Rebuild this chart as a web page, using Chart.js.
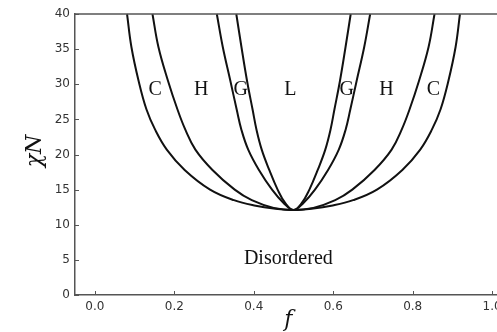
<!DOCTYPE html>
<html>
<head>
<meta charset="utf-8">
<script src="https://cdn.jsdelivr.net/npm/chart.js@4/dist/chart.umd.min.js"></script>
<style>
  html, body { margin: 0; padding: 0; background: #fff; overflow: hidden; }
  .wrap { width: 497px; height: 332px; overflow: hidden; }
  .box { width: 540px; height: 332px; }
</style>
</head>
<body>
<div class="wrap"><div class="box"><canvas id="phase"></canvas></div></div>
<script>
// phase boundaries (f, chiN)
const outerF   = [0.081, 0.092, 0.110, 0.130, 0.152, 0.181, 0.226, 0.290, 0.350, 0.405, 0.45, 0.5, 0.55, 0.595, 0.650, 0.710, 0.774, 0.819, 0.848, 0.870, 0.890, 0.908, 0.919];
const outerChi = [40, 35.3, 30.5, 26.4, 23.5, 20.7, 17.8, 15.0, 13.5, 12.7, 12.3, 12.1, 12.3, 12.7, 13.5, 15.0, 17.8, 20.7, 23.5, 26.4, 30.5, 35.3, 40];

const chF   = [0.145, 0.160, 0.184, 0.208, 0.228, 0.253, 0.296, 0.352, 0.395, 0.45, 0.5, 0.55, 0.605, 0.648, 0.704, 0.747, 0.772, 0.792, 0.816, 0.840, 0.855];
const chChi = [40, 35.3, 30.5, 26.4, 23.5, 20.7, 17.8, 15.0, 13.5, 12.4, 12.1, 12.4, 13.5, 15.0, 17.8, 20.7, 23.5, 26.4, 30.5, 35.3, 40];

const hgF   = [0.307, 0.322, 0.341, 0.357, 0.369, 0.386, 0.413, 0.446, 0.475, 0.5, 0.525, 0.554, 0.587, 0.614, 0.631, 0.643, 0.659, 0.678, 0.693];
const hgChi = [40, 35.3, 30.5, 26.4, 23.5, 20.7, 17.8, 15.0, 13.1, 12.1, 13.1, 15.0, 17.8, 20.7, 23.5, 26.4, 30.5, 35.3, 40];

const glF   = [0.356, 0.369, 0.383, 0.397, 0.407, 0.420, 0.439, 0.460, 0.479, 0.5, 0.521, 0.540, 0.561, 0.580, 0.593, 0.603, 0.617, 0.631, 0.644];
const glChi = [40, 35.3, 30.5, 26.4, 23.5, 20.7, 17.8, 15.0, 13.1, 12.1, 13.1, 15.0, 17.8, 20.7, 23.5, 26.4, 30.5, 35.3, 40];

// region names
const phaseNames = ['C', 'H', 'G', 'L', 'G', 'H', 'C', 'Disordered'];
const phaseF     = [0.152, 0.268, 0.367, 0.492, 0.634, 0.734, 0.852, 0.487];
const phaseChi   = [29.2, 29.2, 29.2, 29.2, 29.2, 29.2, 29.2, 5.2];

const xTicks = [0.0, 0.2, 0.4, 0.6, 0.8, 1.0];
const yTicks = [0, 5, 10, 15, 20, 25, 30, 35, 40];

const toPts = (fs, chis) => fs.map((f, i) => ({ x: f, y: chis[i] }));

function curve(fs, chis) {
  return {
    data: toPts(fs, chis),
    showLine: true,
    borderColor: '#111',
    borderWidth: 2,
    pointRadius: 0,
    tension: 0.4,
    clip: false,
  };
}

const axisColor = '#555';

const decor = {
  id: 'decor',
  afterDraw(chart) {
    const { ctx, chartArea: a, scales: { x, y } } = chart;
    ctx.save();
    ctx.strokeStyle = axisColor;
    ctx.lineWidth = 1.5;
    // top spine
    ctx.beginPath();
    ctx.moveTo(a.left, a.top);
    ctx.lineTo(a.right, a.top);
    ctx.stroke();
    // inward ticks
    ctx.lineWidth = 1;
    ctx.beginPath();
    xTicks.forEach(v => {
      const px = Math.round(x.getPixelForValue(v)) + 0.5;
      ctx.moveTo(px, a.bottom);
      ctx.lineTo(px, a.bottom - 4);
    });
    yTicks.forEach(v => {
      const py = Math.round(y.getPixelForValue(v)) + 0.5;
      ctx.moveTo(a.left, py);
      ctx.lineTo(a.left + 4, py);
    });
    ctx.stroke();

    // phase labels
    ctx.fillStyle = '#111';
    ctx.font = '20px "Liberation Serif", serif';
    ctx.textAlign = 'center';
    ctx.textBaseline = 'middle';
    phaseNames.forEach((t, i) => {
      ctx.fillText(t, x.getPixelForValue(phaseF[i]), y.getPixelForValue(phaseChi[i]));
    });

    // axis titles
    ctx.font = 'italic 22px "DejaVu Serif", serif';
    ctx.fillText('f', x.getPixelForValue(0.487), 320);
    ctx.save();
    ctx.translate(35, y.getPixelForValue(20.5));
    ctx.rotate(-Math.PI / 2);
    ctx.fillText('χN', 0, 0);
    ctx.restore();
    ctx.restore();
  }
};

new Chart(document.getElementById('phase'), {
  type: 'scatter',
  data: {
    datasets: [
      curve(outerF, outerChi),
      curve(chF, chChi),
      curve(hgF, hgChi),
      curve(glF, glChi),
    ]
  },
  options: {
    responsive: true,
    maintainAspectRatio: false,
    animation: false,
    layout: { padding: { left: 0, right: 28, top: 14, bottom: 0 } },
    plugins: { legend: { display: false }, tooltip: { enabled: false } },
    scales: {
      x: {
        type: 'linear',
        min: -0.05,
        max: 1.05,
        afterBuildTicks: s => { s.ticks = xTicks.map(v => ({ value: v })); },
        afterFit: s => { s.height = 37; },
        grid: { display: false, drawTicks: false },
        border: { display: true, color: axisColor, width: 1.5 },
        ticks: {
          padding: 5,
          color: '#333',
          font: { family: '"DejaVu Sans"', size: 12 },
          maxRotation: 0,
          callback: v => v.toFixed(1),
        },
      },
      y: {
        type: 'linear',
        min: 0,
        max: 40,
        afterBuildTicks: s => { s.ticks = yTicks.map(v => ({ value: v })); },
        afterFit: s => { s.width = 75; },
        grid: { display: false, drawTicks: false },
        border: { display: true, color: axisColor, width: 1.5 },
        ticks: {
          padding: 5,
          color: '#333',
          font: { family: '"DejaVu Sans"', size: 12 },
        },
      },
    },
  },
  plugins: [decor],
});
</script>
</body>
</html>
